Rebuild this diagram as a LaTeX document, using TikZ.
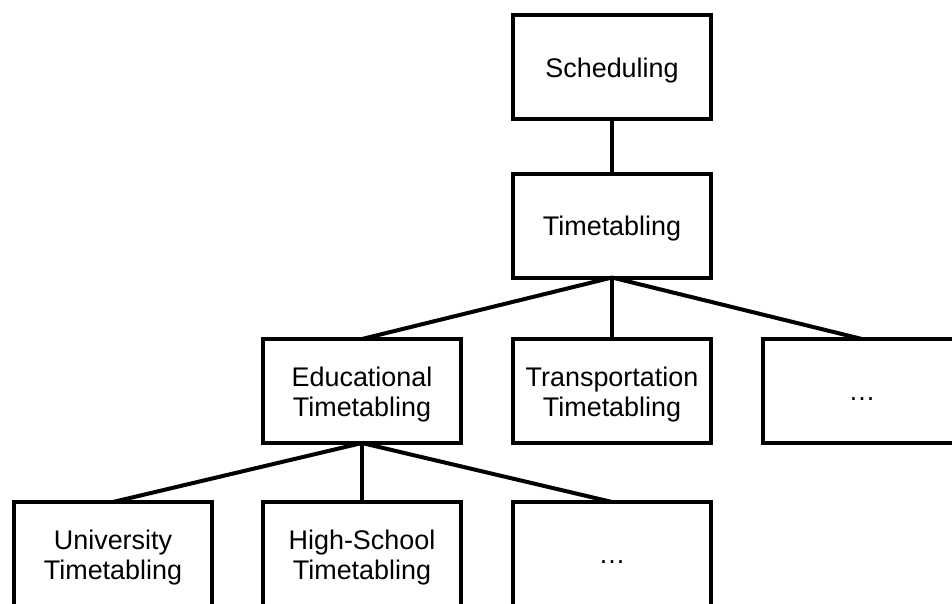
\documentclass[tikz,border=0pt]{standalone}
\usepackage{fontspec}
\setmainfont{Liberation Sans}
\begin{document}
\begin{tikzpicture}[x=0.75pt,y=-0.75pt,
  box/.style={draw=black,line width=3pt,fill=white,minimum width=148.5pt,minimum height=78pt,
    inner sep=0pt,outer sep=0pt},
  txt/.style={inner sep=0pt,align=center,font=\fontsize{20.2}{22.5}\selectfont},
  link/.style={line width=3pt}]
\useasboundingbox (0,0) rectangle (952,603);
\clip (0,0) rectangle (952,603);
\node[box] (sched) at (612,66.5) {};
\node[box] (tt) at (612,225.5) {};
\node[box] (edu) at (362,391) {};
\node[box] (trans) at (612,391) {};
\node[box] (more1) at (862,391) {};
\node[box] (uni) at (113,554) {};
\node[box] (high) at (362,554) {};
\node[box] (more2) at (612,554) {};
\node[txt] (schedt) at ([yshift=-3pt]sched.center) {Scheduling};
\node[txt] (ttt) at ([yshift=-2.5pt]tt.center) {Timetabling};
\node[txt] (edut) at ([yshift=-2.5pt]edu.center) {Educational\\Timetabling};
\node[txt] (transt) at ([yshift=-2.5pt]trans.center) {Transportation\\Timetabling};
\node[txt] (more1t) at ([yshift=-2.5pt]more1.center) {\vphantom{Sg}…};
\node[txt] (unit) at ([yshift=-2.5pt]uni.center) {University\\Timetabling};
\node[txt] (hight) at ([yshift=-2.5pt]high.center) {High-School\\Timetabling};
\node[txt] (more2t) at ([yshift=-2.5pt]more2.center) {\vphantom{Sg}…};
\draw[link] (sched.south) -- (tt.north);
\draw[link] (tt.south) -- (edu.north);
\draw[link] (tt.south) -- (trans.north);
\draw[link] (tt.south) -- (more1.north);
\draw[link] (edu.south) -- (uni.north);
\draw[link] (edu.south) -- (high.north);
\draw[link] (edu.south) -- (more2.north);
\end{tikzpicture}
\end{document}
